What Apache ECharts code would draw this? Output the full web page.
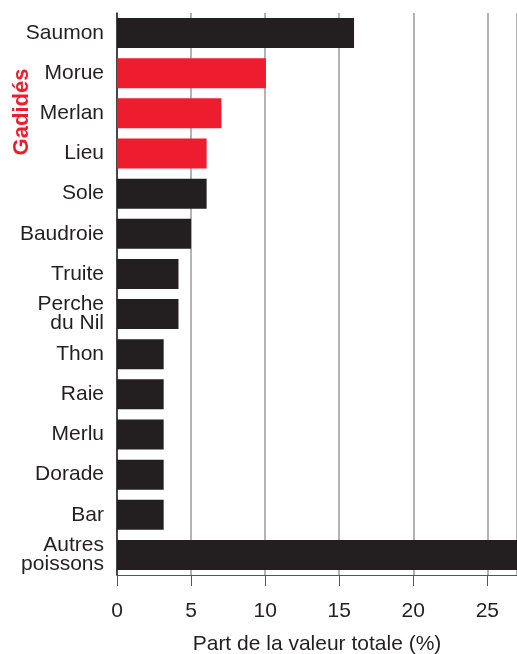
<!DOCTYPE html>
<html>
<head>
<meta charset="utf-8">
<script src="https://cdn.jsdelivr.net/npm/echarts@6/dist/echarts.min.js"></script>
<style>html,body{margin:0;padding:0;background:#fff;overflow:hidden}#c{width:517px;height:654px}</style>
</head>
<body>
<div id="c"></div>
<script>
var categories = ['Saumon','Morue','Merlan','Lieu','Sole','Baudroie','Truite','Perche\ndu Nil','Thon','Raie','Merlu','Dorade','Bar','Autres\npoissons'];
var values = [16, 10.05, 7.05, 6.05, 6.05, 5, 4.15, 4.15, 3.15, 3.15, 3.15, 3.15, 3.15, 28];
var gadides = ['Morue','Merlan','Lieu'];
var xTicks = [0, 5, 10, 15, 20, 25];
var xName = 'Part de la valeur totale (%)';
var groupLabel = 'Gadidés';

var BLACK = '#231f20', RED = '#ed1c2e';
var font = '"Liberation Sans", Arial, Helvetica, sans-serif';

var chart = echarts.init(document.getElementById('c'), null, {renderer: 'canvas'});
chart.setOption({
  animation: false,
  backgroundColor: '#fff',
  grid: {left: 117, right: 0, top: 13, bottom: 79, containLabel: false, outerBoundsMode: 'none'},
  xAxis: {
    type: 'value', min: 0, max: 27, interval: 5,
    name: xName, nameLocation: 'middle', nameGap: 59,
    nameTextStyle: {fontFamily: font, fontSize: 21, color: BLACK},
    axisLine: {show: true, lineStyle: {color: '#555', width: 1}},
    axisTick: {show: true, length: 11, lineStyle: {color: '#555', width: 1}},
    axisLabel: {fontFamily: font, fontSize: 21, color: BLACK, margin: 26,
      formatter: function (v) { return xTicks.indexOf(v) >= 0 ? String(v) : ''; }},
    splitLine: {show: true, lineStyle: {color: '#9a9a9a', width: 1.5}}
  },
  yAxis: {
    type: 'category', data: categories, inverse: true,
    axisLine: {show: true, lineStyle: {color: BLACK, width: 1.5}},
    axisTick: {show: false},
    axisLabel: {fontFamily: font, fontSize: 21, color: BLACK, margin: 13, lineHeight: 19,
      align: 'right', padding: [6, 0, 0, 0]},
    splitLine: {show: false}
  },
  graphic: [{
    type: 'text', x: 22, y: 112, rotation: Math.PI / 2,
    style: {text: groupLabel, fill: RED, font: 'bold 22px ' + font, align: 'center', verticalAlign: 'middle'}
  }],
  series: [{
    type: 'bar', barWidth: 30, clip: true,
    data: values.map(function (v, i) {
      return {value: v, itemStyle: {color: gadides.indexOf(categories[i]) >= 0 ? RED : BLACK}};
    })
  }]
});
</script>
</body>
</html>
